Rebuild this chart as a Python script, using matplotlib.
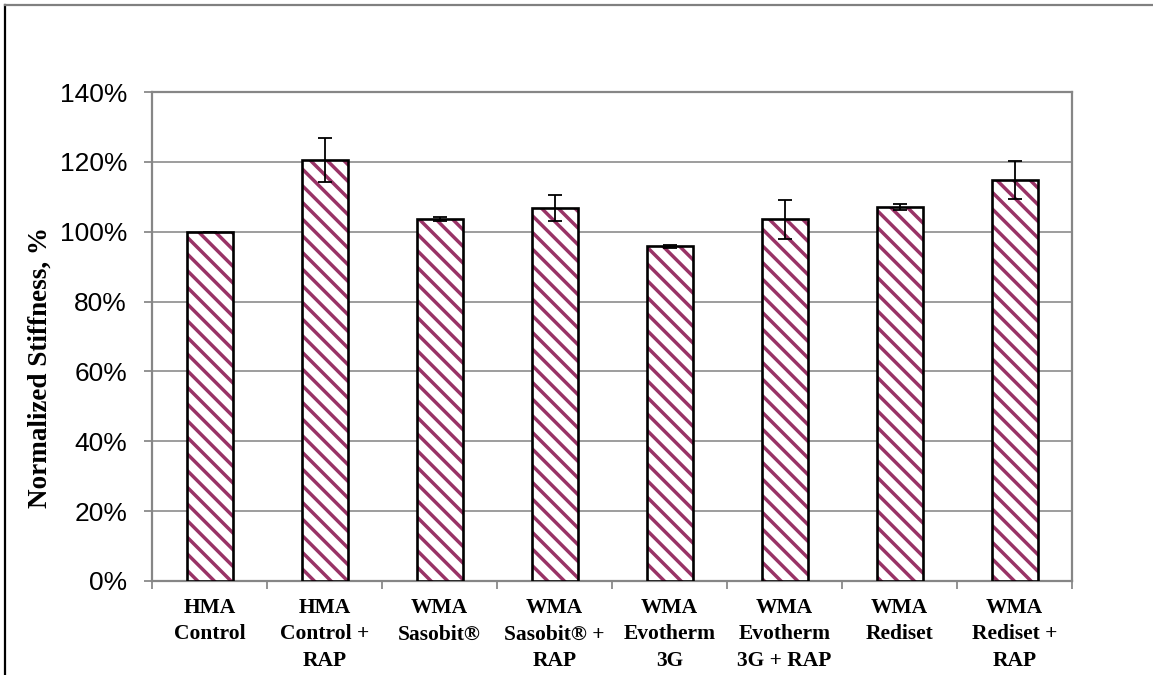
import matplotlib
matplotlib.use("Agg")
import matplotlib.pyplot as plt
from matplotlib.lines import Line2D
from matplotlib.ticker import FuncFormatter, FixedLocator
import numpy as np

categories = ["HMA\nControl", "HMA\nControl +\nRAP", "WMA\nSasobit®", "WMA\nSasobit® +\nRAP",
              "WMA\nEvotherm\n3G", "WMA\nEvotherm\n3G + RAP", "WMA\nRediset", "WMA\nRediset +\nRAP"]
values = [100.0, 120.5, 103.6, 106.8, 95.8, 103.5, 107.0, 114.9]
errors = [0.0, 6.4, 0.5, 3.7, 0.5, 5.6, 0.8, 5.4]
yticks = [0, 20, 40, 60, 80, 100, 120, 140]

plt.rcParams['hatch.linewidth'] = 2.5

fig = plt.figure(figsize=(11.53, 6.75), dpi=100)
W, H = 1153, 675
ax = fig.add_axes([152 / W, (H - 581) / H, (1072 - 152) / W, (581 - 92) / H])

x = np.arange(len(categories))
ax.bar(x, values, width=0.4, color='white', edgecolor='#993366', linewidth=0,
       hatch='\\\\', zorder=3)
ax.bar(x, values, width=0.4, fill=False, edgecolor='black', linewidth=1.9, zorder=3.5)
ax.errorbar(x, values, yerr=errors, fmt='none', ecolor='black', elinewidth=1.3,
            capsize=5, capthick=1.3, zorder=4)

ax.set_xlim(-0.5, len(categories) - 0.5)
ax.set_ylim(0, 140)
ax.yaxis.set_major_locator(FixedLocator(yticks))
ax.yaxis.set_major_formatter(FuncFormatter(lambda v, p: f"{int(round(v))}%"))
ax.grid(axis='y', color='#8c8c8c', linewidth=1.2, zorder=0)
ax.set_axisbelow(True)

ax.set_xticks(x)
ax.set_xticklabels(categories, fontfamily='Liberation Serif', fontweight='bold',
                   fontsize=15.5, linespacing=1.45)
ax.tick_params(axis='x', length=0, pad=12)
ax.set_xticks(np.arange(len(categories) + 1) - 0.5, minor=True)
ax.tick_params(axis='x', which='minor', length=6, width=1.2, color='#808080', direction='out')

ax.tick_params(axis='y', labelsize=19, length=6, width=1.2, color='#808080', pad=12)
for lbl in ax.get_yticklabels():
    lbl.set_fontfamily('Liberation Sans')

for s in ax.spines.values():
    s.set_color('#868686')
    s.set_linewidth(1.6)

ax.set_ylabel("Normalized Stiffness, %", fontfamily='Liberation Serif', fontweight='bold',
              fontsize=19.5, va='center')
ax.yaxis.set_label_coords((40 - 152) / 920, (581 - 368) / 489)

fig.add_artist(Line2D([5 / W, 5 / W], [0, 1 - 5 / H], color='black', linewidth=1.6,
                      transform=fig.transFigure))
fig.add_artist(Line2D([5 / W, 1], [1 - 5 / H, 1 - 5 / H], color='#808080', linewidth=1.6,
                      transform=fig.transFigure))

fig.savefig("out.png", dpi=100)
